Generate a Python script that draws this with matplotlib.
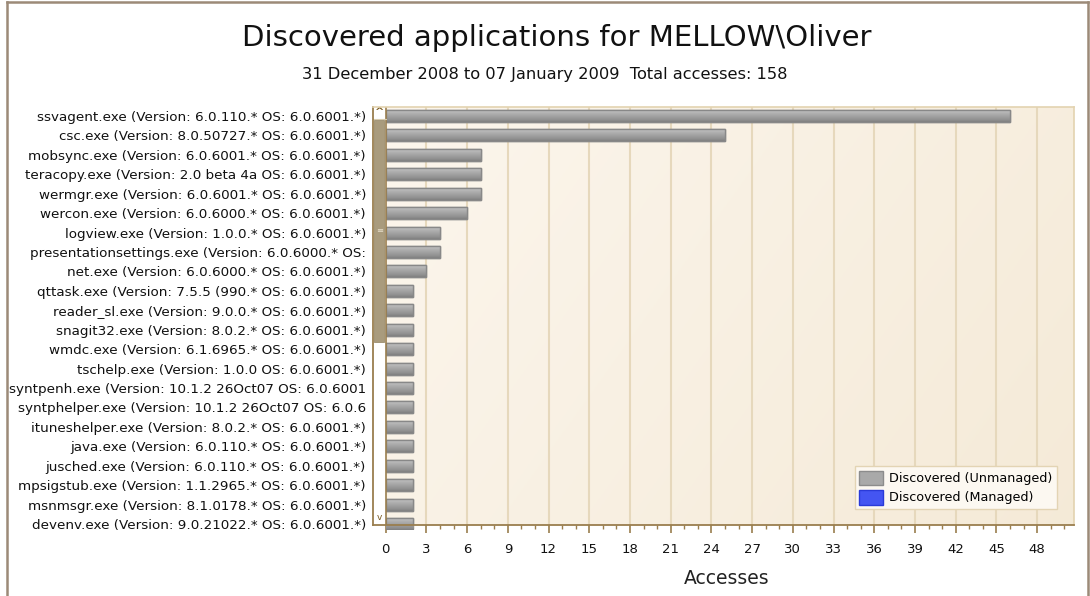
import matplotlib
matplotlib.use("Agg")
import matplotlib.pyplot as plt
import numpy as np
from matplotlib.patches import Rectangle, Patch
from matplotlib.lines import Line2D
from matplotlib.ticker import MultipleLocator

plt.rcParams['font.family'] = ['DejaVu Sans']

title = "Discovered applications for MELLOW\\Oliver"
subtitle = "31 December 2008 to 07 January 2009  Total accesses: 158"
xlabel = "Accesses"

apps = [
    "ssvagent.exe (Version: 6.0.110.* OS: 6.0.6001.*)",
    "csc.exe (Version: 8.0.50727.* OS: 6.0.6001.*)",
    "mobsync.exe (Version: 6.0.6001.* OS: 6.0.6001.*)",
    "teracopy.exe (Version: 2.0 beta 4a OS: 6.0.6001.*)",
    "wermgr.exe (Version: 6.0.6001.* OS: 6.0.6001.*)",
    "wercon.exe (Version: 6.0.6000.* OS: 6.0.6001.*)",
    "logview.exe (Version: 1.0.0.* OS: 6.0.6001.*)",
    "presentationsettings.exe (Version: 6.0.6000.* OS:",
    "net.exe (Version: 6.0.6000.* OS: 6.0.6001.*)",
    "qttask.exe (Version: 7.5.5 (990.* OS: 6.0.6001.*)",
    "reader_sl.exe (Version: 9.0.0.* OS: 6.0.6001.*)",
    "snagit32.exe (Version: 8.0.2.* OS: 6.0.6001.*)",
    "wmdc.exe (Version: 6.1.6965.* OS: 6.0.6001.*)",
    "tschelp.exe (Version: 1.0.0 OS: 6.0.6001.*)",
    "syntpenh.exe (Version: 10.1.2 26Oct07 OS: 6.0.6001",
    "syntphelper.exe (Version: 10.1.2 26Oct07 OS: 6.0.6",
    "ituneshelper.exe (Version: 8.0.2.* OS: 6.0.6001.*)",
    "java.exe (Version: 6.0.110.* OS: 6.0.6001.*)",
    "jusched.exe (Version: 6.0.110.* OS: 6.0.6001.*)",
    "mpsigstub.exe (Version: 1.1.2965.* OS: 6.0.6001.*)",
    "msnmsgr.exe (Version: 8.1.0178.* OS: 6.0.6001.*)",
    "devenv.exe (Version: 9.0.21022.* OS: 6.0.6001.*)",
]
unmanaged = [46, 25, 7, 7, 7, 6, 4, 4, 3, 2, 2, 2, 2, 2, 2, 2, 2, 2, 2, 2, 2, 2]
legend_labels = ["Discovered (Unmanaged)", "Discovered (Managed)"]
x_ticks = list(range(0, 49, 3))

W, H = 1090, 596
fig = plt.figure(figsize=(W / 100, H / 100), dpi=100)
fig.patch.set_facecolor("white")

L, R, T, B = 373, 1074, 107, 525
ax = fig.add_axes([L / W, 1 - B / H, (R - L) / W, (B - T) / H])

y = np.arange(len(apps))

# background gradient
gx, gy = np.meshgrid(np.linspace(0, 1, 200), np.linspace(0, 1, 200))
g = (gx * 0.7 + (1 - gy) * 0.3)
c0 = np.array([0.988, 0.965, 0.930])
c1 = np.array([0.960, 0.918, 0.845])
img = c0[None, None, :] * (1 - g[..., None]) + c1[None, None, :] * g[..., None]
ax.imshow(img, extent=[0, 1, 0, 1], transform=ax.transAxes, aspect="auto",
          zorder=0, origin="lower")

bars = ax.barh(y, unmanaged, height=0.62, color="#A4A4A4",
               edgecolor="#8E8E8E", linewidth=1.0, zorder=3)
grad = np.linspace(0, 1, 64)
gcol = np.interp(grad, [0, 0.15, 0.5, 0.85, 1.0], [0.80, 0.74, 0.65, 0.56, 0.50])
gimg = np.repeat(gcol[:, None], 2, axis=1)
gimg = np.dstack([gimg, gimg, gimg])
for b in bars:
    x0, y0 = b.get_x(), b.get_y()
    w, h = b.get_width(), b.get_height()
    im = ax.imshow(gimg, extent=[x0, x0 + w, y0 + h, y0], aspect="auto",
                   origin="upper", zorder=3.5, interpolation="bilinear")
    im.set_clip_path(b)
    rb = Rectangle((x0, y0), w, h, fill=False, edgecolor="#888888", lw=1.0, zorder=4)
    ax.add_patch(rb)

ax.set_yticks(y)
ax.set_yticklabels(apps, fontsize=9.7, color="#111111")
ax.tick_params(axis="y", length=0, pad=5)
ax.set_xticks(x_ticks)
ax.set_xticklabels([str(v) for v in x_ticks], fontsize=9.5, color="#111111")
ax.xaxis.set_minor_locator(MultipleLocator(1))
ax.tick_params(axis="x", which="major", length=6, width=1.2, color="#9A7E4E",
               direction="out", pad=7)
ax.tick_params(axis="x", which="minor", length=3, width=1.0, color="#9A7E4E",
               direction="out")

ax.set_xlim(-0.936, 50.72)
ax.set_ylim(21.05, -0.46)

for xt in x_ticks[1:]:
    ax.axvline(xt, color="#E6D8BC", lw=1.5, zorder=1)

# scrollbar
sb_w = 12.5 / (R - L)
ax.add_patch(Rectangle((0, 0), sb_w, 1, transform=ax.transAxes, facecolor="white",
                       edgecolor="none", zorder=5, clip_on=False))
ax.add_line(Line2D([sb_w, sb_w], [0, 1], transform=ax.transAxes, color="#9A7E4E",
                   lw=1.2, zorder=6))
ax.add_line(Line2D([0, sb_w], [(B - 119) / (B - T)] * 2, transform=ax.transAxes,
                   color="#D8CCB0", lw=0.8, zorder=6))
ax.add_patch(Rectangle((1.2 / (R - L), (B - 342) / (B - T)), 10 / (R - L),
                       (342 - 120) / (B - T), transform=ax.transAxes,
                       facecolor="#A99B7D", edgecolor="#9C8D6E", lw=0.6, zorder=6))
ax.text(sb_w / 2, (B - 230) / (B - T), "≡", transform=ax.transAxes, ha="center",
        va="center", fontsize=6, color="#E8E0CC", zorder=7)
ax.text(sb_w / 2, (B - 112) / (B - T), "^", transform=ax.transAxes, ha="center",
        va="center", fontsize=8, color="#7A5A20", zorder=7, fontweight="bold")
ax.text(sb_w / 2, (B - 517) / (B - T), "v", transform=ax.transAxes, ha="center",
        va="center", fontsize=6.5, color="#7A5A20", zorder=7)

# spines
for s in ["top", "right"]:
    ax.spines[s].set_color("#E3D3B0")
    ax.spines[s].set_linewidth(1.2)
for s in ["left", "bottom"]:
    ax.spines[s].set_color("#9A7E4E")
    ax.spines[s].set_linewidth(1.3)
for s in ax.spines.values():
    s.set_zorder(8)

ax.set_xlabel(xlabel, fontsize=13.5, color="#222222")
ax.xaxis.set_label_coords((727 - L) / (R - L), -(578 - B) / (B - T))
ax.xaxis.label.set_va("center")

handles = [Patch(facecolor="#A9A9A9", edgecolor="#8C8C8C"),
           Patch(facecolor="#4455F2", edgecolor="#2A3AD8")]
leg = ax.legend(handles, legend_labels, loc="lower right",
                bbox_to_anchor=((1057 - L) / (R - L), (B - 509) / (B - T)),
                borderaxespad=0, fontsize=9.2, frameon=True, fancybox=False,
                handlelength=1.85, handleheight=1.4, handletextpad=0.5,
                borderpad=0.35, labelspacing=0.35)
leg.get_frame().set_facecolor("#FCF8F1")
leg.get_frame().set_edgecolor("#E3D4B4")
leg.get_frame().set_linewidth(1.0)
leg.get_frame().set_alpha(1)
leg.set_zorder(9)

fig.text(557 / W, 1 - 38 / H, title, ha="center", va="center", fontsize=21,
         color="#111111")
fig.text(545 / W, 1 - 75 / H, subtitle, ha="center", va="center", fontsize=11.7,
         color="#111111")

# outer border
bc = "#9C8A78"
fig.add_artist(Line2D([7 / W, 7 / W], [0, 1 - 1.5 / H], transform=fig.transFigure,
                      color=bc, lw=1.8))
fig.add_artist(Line2D([7 / W, 1087.5 / W], [1 - 1.5 / H, 1 - 1.5 / H],
                      transform=fig.transFigure, color=bc, lw=1.8))
fig.add_artist(Line2D([1087.5 / W, 1087.5 / W], [0, 1 - 1.5 / H],
                      transform=fig.transFigure, color=bc, lw=1.8))

fig.savefig("out.png", dpi=100, facecolor="white")
